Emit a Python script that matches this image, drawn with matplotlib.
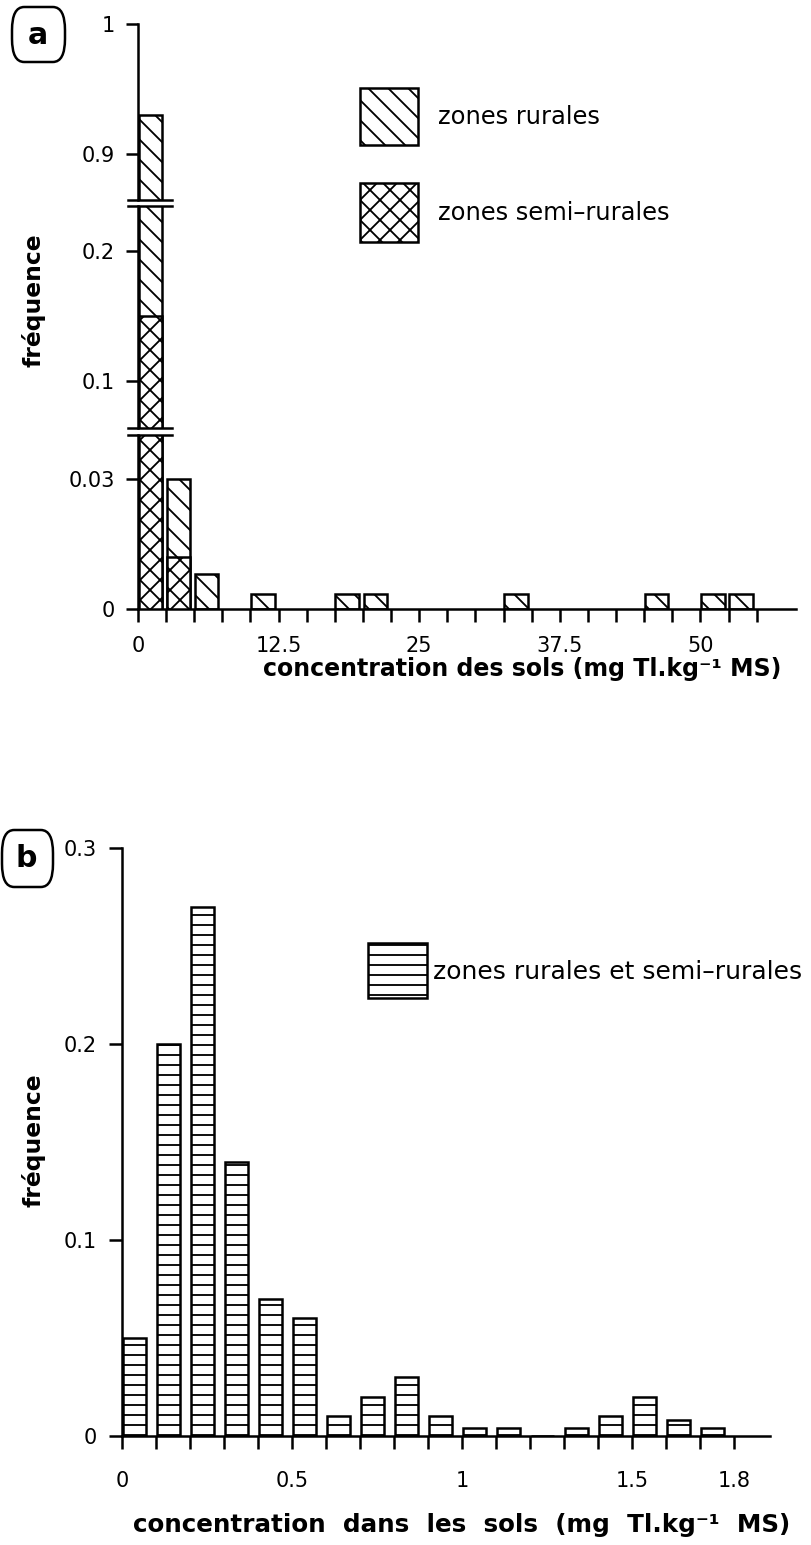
import matplotlib
matplotlib.use('Agg')
import matplotlib.pyplot as plt
from matplotlib.patches import FancyBboxPatch, Rectangle
import numpy as np

plt.rcParams['font.family'] = ['DejaVu Sans']
plt.rcParams['hatch.linewidth'] = 1.1
plt.rcParams['hatch.color'] = 'black'

DPI = 120
W, H = 811, 1545

# ---------------- data : panel a ----------------
a_rural_bins = [0, 2.5, 5, 10, 17.5, 20, 32.5, 45, 50, 52.5]
a_rural_freq = [0.93, 0.03, 0.008, 0.0035, 0.0035, 0.0035, 0.0035, 0.0035, 0.0035, 0.0035]
a_semi_bins = [0, 2.5]
a_semi_freq = [0.15, 0.012]
a_xticks = [i * 2.5 for i in range(23)]
a_xlabel_ticks = [0, 12.5, 25, 37.5, 50]
a_xlabel_texts = ['0', '12.5', '25', '37.5', '50']
a_segments = [(0.0, 0.0402), (0.0638, 0.2346), (0.8646, 1.0)]
a_yticks = [[0, 0.03], [0.1, 0.2], [0.9, 1.0]]
a_yticklabels = [['0', '0.03'], ['0.1', '0.2'], ['0.9', '1']]
a_legend = ['zones rurales', 'zones semi\u2013rurales']

# ---------------- data : panel b ----------------
b_bins = [0.0, 0.1, 0.2, 0.3, 0.4, 0.5, 0.6, 0.7, 0.8, 0.9,
          1.0, 1.1, 1.2, 1.3, 1.4, 1.5, 1.6, 1.7]
b_freq = [0.05, 0.20, 0.27, 0.14, 0.07, 0.06, 0.01, 0.02, 0.03, 0.01,
          0.004, 0.004, 0.0, 0.004, 0.01, 0.02, 0.008, 0.004]
b_xticks = [i / 10 for i in range(19)]
b_xlabel_ticks = [0, 0.5, 1.0, 1.5, 1.8]
b_xlabel_texts = ['0', '0.5', '1', '1.5', '1.8']
b_yticks = [0, 0.1, 0.2, 0.3]
b_yticklabels = ['0', '0.1', '0.2', '0.3']
b_legend = 'zones rurales et semi\u2013rurales'

HATCH_R = '\\\\'
HATCH_S = 'xx'
HATCH_B = '--'
LW = 1.5
TICK_FS = 12.5


def px_rect(x0, y0, x1, y1):
    """pixel box (top-left origin) -> figure fraction rect"""
    return [x0 / W, 1 - y1 / H, (x1 - x0) / W, (y1 - y0) / H]


fig = plt.figure(figsize=(W / DPI, H / DPI), dpi=DPI)

# ---------------- panel a (broken y axis) ----------------
seg_px = [(435, 609), (206, 428), (24, 200)]  # bottom, middle, top (pixel y)
axes_a = []
for k, ((y0, y1), (lo, hi)) in enumerate(zip(seg_px, a_segments)):
    ax = fig.add_axes(px_rect(138, y0, 796, y1))
    ax.bar([b + 0.05 for b in a_rural_bins], a_rural_freq, width=2.1, align='edge',
           facecolor='white', edgecolor='black', linewidth=LW, hatch=HATCH_R, zorder=2)
    ax.bar([b + 0.05 for b in a_semi_bins], a_semi_freq, width=2.1, align='edge',
           facecolor='white', edgecolor='black', linewidth=LW, hatch=HATCH_S, zorder=3)
    ax.set_xlim(0, 58.5)
    ax.set_ylim(lo, hi)
    ax.set_yticks(a_yticks[k])
    ax.set_yticklabels(a_yticklabels[k], fontsize=TICK_FS)
    for s in ['top', 'right']:
        ax.spines[s].set_visible(False)
    ax.spines['left'].set_linewidth(LW)
    ax.tick_params(axis='y', direction='out', length=7, width=LW, pad=7)
    if k == 0:
        ax.spines['bottom'].set_linewidth(LW)
        ax.set_xticks(a_xticks)
        ax.set_xticklabels([a_xlabel_texts[a_xlabel_ticks.index(t)] if t in a_xlabel_ticks else ''
                            for t in a_xticks], fontsize=TICK_FS)
        ax.tick_params(axis='x', direction='out', length=8, width=LW, pad=8)
    else:
        ax.spines['bottom'].set_visible(False)
        ax.set_xticks([])
    ax.patch.set_visible(False)
    axes_a.append(ax)

# break marks
for k in range(2):
    lower, upper = axes_a[k], axes_a[k + 1]
    for ax, yy in ((lower, lower.get_ylim()[1]), (upper, upper.get_ylim()[0])):
        ax.plot([-0.9, 3.0], [yy, yy], color='black', lw=LW, clip_on=False, zorder=5)

fig.text(522 / W, 1 - 669 / H, 'concentration des sols (mg Tl.kg\u207b\u00b9 MS)',
         ha='center', va='center', fontsize=14.2, fontweight='bold')
fig.text(34 / W, 1 - 300 / H, 'fréquence', rotation=90, ha='center', va='center',
         fontsize=14, fontweight='bold')

# legend a
for (y0, y1), lab, hat, ty in zip([(88, 145), (183, 242)], a_legend, [HATCH_R, HATCH_S], [117, 213]):
    fig.add_artist(Rectangle((360 / W, 1 - y1 / H), 58 / W, (y1 - y0) / H, transform=fig.transFigure,
                             facecolor='white', edgecolor='black', linewidth=LW, hatch=hat))
    fig.text(438 / W, 1 - ty / H, lab, ha='left', va='center', fontsize=14.5)

# panel label a
fig.add_artist(FancyBboxPatch((12 / W, 1 - 62 / H), 53 / W, 55 / H, transform=fig.transFigure,
                              boxstyle='round,pad=0,rounding_size=0.015', facecolor='white',
                              edgecolor='black', linewidth=LW))
fig.text(38 / W, 1 - 35 / H, 'a', ha='center', va='center', fontsize=18, fontweight='bold')

# ---------------- panel b ----------------
axb = fig.add_axes(px_rect(122, 848, 770, 1436))
axb.bar([b + 0.002 for b in b_bins], b_freq, width=0.068, align='edge',
        facecolor='white', edgecolor='black', linewidth=LW, hatch=HATCH_B, zorder=2)
axb.set_xlim(0, 1.906)
axb.set_ylim(0, 0.3)
axb.set_yticks(b_yticks)
axb.set_yticklabels(b_yticklabels, fontsize=TICK_FS)
axb.set_xticks(b_xticks)
axb.set_xticklabels([b_xlabel_texts[b_xlabel_ticks.index(t)] if t in b_xlabel_ticks else ''
                     for t in b_xticks], fontsize=TICK_FS)
for s in ['top', 'right']:
    axb.spines[s].set_visible(False)
for s in ['left', 'bottom']:
    axb.spines[s].set_linewidth(LW)
axb.tick_params(axis='y', direction='out', length=8, width=LW, pad=7)
axb.tick_params(axis='x', direction='out', length=8, width=LW, pad=13)
axb.patch.set_visible(False)

fig.text(462 / W, 1 - 1525 / H, 'concentration  dans  les  sols  (mg  Tl.kg\u207b\u00b9  MS)',
         ha='center', va='center', fontsize=14.8, fontweight='bold')
fig.text(34 / W, 1 - 1140 / H, 'fréquence', rotation=90, ha='center', va='center',
         fontsize=14, fontweight='bold')

fig.add_artist(Rectangle((368 / W, 1 - 998 / H), 59 / W, 55 / H, transform=fig.transFigure,
                         facecolor='white', edgecolor='black', linewidth=LW, hatch=HATCH_B))
fig.text(433 / W, 1 - 972 / H, b_legend, ha='left', va='center', fontsize=15)

fig.add_artist(FancyBboxPatch((2 / W, 1 - 887 / H), 51 / W, 57 / H, transform=fig.transFigure,
                              boxstyle='round,pad=0,rounding_size=0.015', facecolor='white',
                              edgecolor='black', linewidth=LW))
fig.text(26 / W, 1 - 859 / H, 'b', ha='center', va='center', fontsize=18, fontweight='bold')

fig.savefig('out.png', dpi=DPI)
